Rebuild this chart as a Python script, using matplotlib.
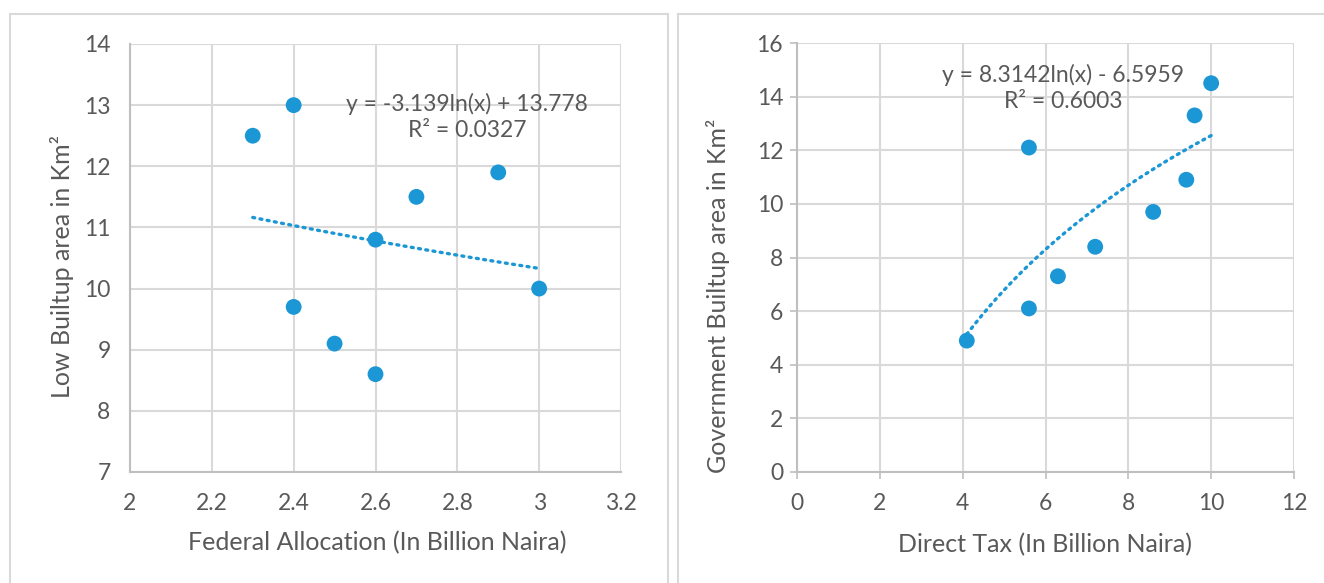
import numpy as np
import matplotlib.pyplot as plt
from matplotlib.patches import Rectangle

# Federal allocation vs low builtup area
fed_alloc = [2.3, 2.4, 2.4, 2.5, 2.6, 2.6, 2.7, 2.9, 3.0]
low_area = [12.5, 13.0, 9.7, 9.1, 10.8, 8.6, 11.5, 11.9, 10.0]
low_fit = (-3.139, 13.778)  # y = a*ln(x) + b
low_r2 = 0.0327

# Direct tax vs government builtup area
direct_tax = [4.1, 5.6, 5.6, 6.3, 7.2, 8.6, 9.4, 9.6, 10.0]
gov_area = [4.9, 12.1, 6.1, 7.3, 8.4, 9.7, 10.9, 13.3, 14.5]
gov_fit = (8.3142, -6.5959)
gov_r2 = 0.6003

BLUE = '#1C97D5'
TEXT = '#595959'
GRID = '#D9D9D9'
AXIS = '#BFBFBF'

plt.rcParams['font.family'] = ['Lato', 'DejaVu Sans']

fig = plt.figure(figsize=(13.24, 5.83), dpi=100)

# light frames around each chart, open at the bottom
W, H = 1324, 583
for x0, x1 in [(10, 668), (678, 1340)]:
    fig.add_artist(Rectangle((x0 / W, -0.1), (x1 - x0) / W, 1.1 - 14 / H,
                             transform=fig.transFigure, fill=False,
                             edgecolor=GRID, linewidth=1.5))


def log_label(a, b, r2):
    sign = '+' if b >= 0 else '-'
    return f"y = {a:g}ln(x) {sign} {abs(b):g}\nR² = {r2:.4f}"


def draw_panel(ax, x, y, fit, r2, xlim, ylim, xstep, ystep,
               xlabel, ylabel, text_pos, ticks_out, xpad, ypad,
               xlabel_pos, ylabel_pos):
    ax.set_xlim(*xlim)
    ax.set_ylim(*ylim)
    ax.set_xticks(np.arange(xlim[0], xlim[1] + xstep / 2, xstep))
    ax.set_yticks(np.arange(ylim[0], ylim[1] + ystep / 2, ystep))
    ax.xaxis.set_major_formatter(plt.FuncFormatter(lambda v, p: f"{v:g}"))
    ax.yaxis.set_major_formatter(plt.FuncFormatter(lambda v, p: f"{v:g}"))
    ax.grid(True, color=GRID, linewidth=1.5)
    ax.set_axisbelow(True)
    for side in ['top', 'right']:
        ax.spines[side].set_visible(False)
    for side in ['left', 'bottom']:
        ax.spines[side].set_color(AXIS)
        ax.spines[side].set_linewidth(1.5)
    if ticks_out:
        ax.tick_params(length=5, width=1.2, color=AXIS, direction='out')
    else:
        ax.tick_params(length=0)
    ax.tick_params(labelsize=16.5, labelcolor=TEXT)
    ax.tick_params(axis='x', pad=xpad)
    ax.tick_params(axis='y', pad=ypad)

    ax.scatter(x, y, s=130, color=BLUE, zorder=3, edgecolors='none')

    xs = np.linspace(min(x), max(x), 200)
    ax.plot(xs, fit[0] * np.log(xs) + fit[1], color=BLUE, linewidth=2.4,
            linestyle=(0, (0.6, 1.6)), dash_capstyle='round', zorder=2)

    ax.text(text_pos[0], text_pos[1], log_label(fit[0], fit[1], r2),
            ha='center', va='center', fontsize=16.5, color=TEXT,
            linespacing=1.3, zorder=4)

    ax.set_xlabel(xlabel, fontsize=18, color=TEXT)
    ax.set_ylabel(ylabel, fontsize=18, color=TEXT)
    ax.xaxis.set_label_coords(*xlabel_pos)
    ax.yaxis.set_label_coords(*ylabel_pos)
    ax.xaxis.label.set_va('center')
    ax.yaxis.label.set_va('center')


ax1 = fig.add_axes([130 / W, 1 - 472 / H, 491 / W, 428 / H])
draw_panel(ax1, fed_alloc, low_area, low_fit, low_r2,
           (2, 3.2), (7, 14), 0.2, 1,
           'Federal Allocation (In Billion Naira)', 'Low Builtup area in Km²',
           (2.824, 12.81), False, 15, 14,
           (0.503, -0.166), (-0.1385, 0.48))

ax2 = fig.add_axes([797 / W, 1 - 472 / H, 497 / W, 429 / H])
draw_panel(ax2, direct_tax, gov_area, gov_fit, gov_r2,
           (0, 12), (0, 16), 2, 2,
           'Direct Tax (In Billion Naira)', 'Government Builtup area in Km²',
           (6.43, 14.33), True, 10, 5,
           (0.50, -0.17), (-0.159, 0.41))

fig.savefig('out.png', dpi=100)
